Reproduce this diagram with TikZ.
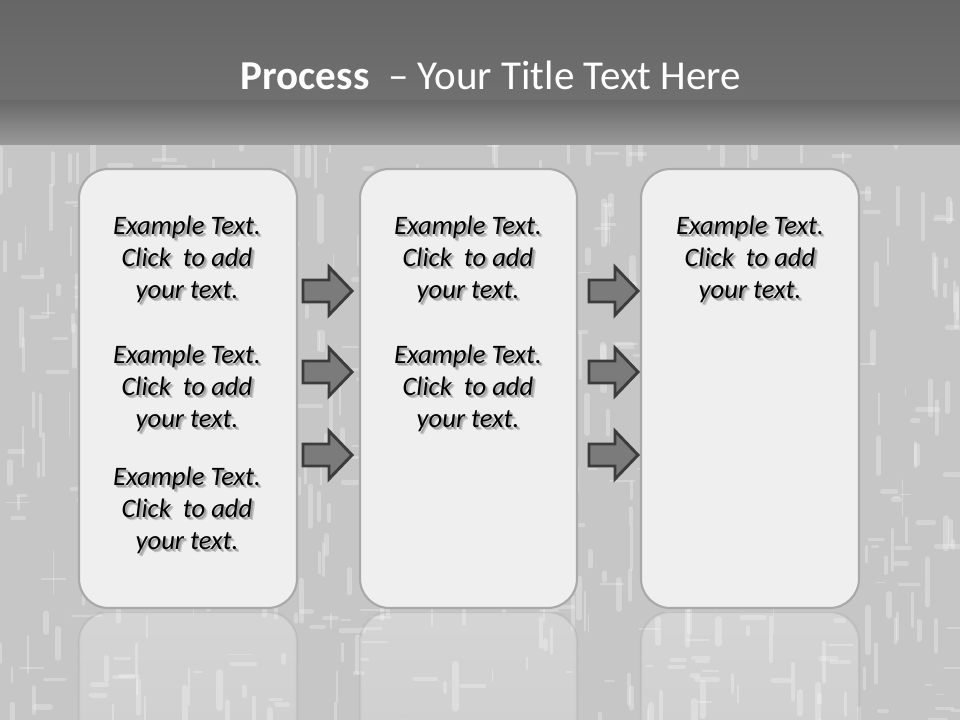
\documentclass[tikz,border=0pt]{standalone}
\usepackage{fontspec}
\setmainfont{Carlito}
\usetikzlibrary{fadings}
\definecolor{bandtop}{HTML}{666666}
\definecolor{bandmid}{HTML}{707070}
\definecolor{bandlow}{HTML}{A6A6A6}
\definecolor{bgbase}{HTML}{C6C6C6}
\definecolor{boxfill}{HTML}{EFEFEF}
\definecolor{boxline}{HTML}{A9A9A9}
\definecolor{arrfill}{HTML}{7B7B7B}
\definecolor{arrline}{HTML}{3C3C3C}
\definecolor{shadowa}{HTML}{C4C4C4}
\definecolor{shadowb}{HTML}{A2A2A2}
\tikzfading[name=reflfade, top color=transparent!25, bottom color=transparent!100]
\tikzset{
  panel/.style={draw=boxline, line width=1.6pt, fill=boxfill, rounded corners=22pt, inner sep=0pt},
  reflpanel/.style={draw=boxline, line width=1.6pt, fill=white, fill opacity=0.35, draw opacity=0.5, rounded corners=22pt, path fading=reflfade},
  bodytxt/.style={align=center, font=\fontsize{20}{24}\selectfont\itshape, text=black, inner sep=0pt},
  arrowshape/.style={draw=arrline, fill=arrfill, line width=2.2pt, line join=miter},
  streak/.style={white, opacity=0.28, line cap=round}
}
\newcommand{\shl}[1]{\leavevmode\rlap{\kern2.4pt\raisebox{-2.6pt}{\textcolor{shadowa}{#1}}}\rlap{\kern1.4pt\raisebox{-1.5pt}{\textcolor{shadowb}{#1}}}#1}
\newcommand{\exampletext}{\shl{Example Text.}\\\shl{Click~ to add}\\\shl{your text.}}
\newcommand{\fatarrow}[3]{% name, left x, center y
  \coordinate (#1) at (#2,#3);
  \draw[arrowshape] ([shift={(0,-11)}]#1) -- ++(26,0) -- ++(0,-13) -- ++(23,24) -- ++(-23,24) -- ++(0,-13) -- ++(-26,0) -- cycle;
}
\begin{document}
\begin{tikzpicture}[x=0.75pt,y=-0.75pt]
\useasboundingbox (0,0) rectangle (960,720);
% background
\fill[bgbase] (0,0) rectangle (960,720);
\pgfmathsetseed{11}
\foreach \i in {1,...,420} {
  \pgfmathsetmacro{\rx}{960*rnd}
  \pgfmathsetmacro{\ry}{110+610*rnd}
  \pgfmathsetmacro{\rl}{6+40*rnd}
  \pgfmathsetmacro{\rw}{1+4*rnd}
  \draw[streak, line width=\rw] (\rx,\ry) -- ++(0,\rl);
}
\foreach \i in {1,...,220} {
  \pgfmathsetmacro{\rx}{960*rnd}
  \pgfmathsetmacro{\ry}{140+580*rnd}
  \pgfmathsetmacro{\rl}{5+20*rnd}
  \pgfmathsetmacro{\rw}{1+3*rnd}
  \draw[streak, opacity=0.25, line width=\rw] (\rx,\ry) -- ++(\rl,0);
}
\fill[top color=bandtop, bottom color=bandmid] (0,0) rectangle (960,100);
\fill[top color=bandmid, bottom color=bandlow, fill opacity=0.92] (0,100) rectangle (960,145);
% title
\node[font=\fontsize{30.8}{36}\selectfont, text=white, inner sep=0pt] (title) at (491,75) {\textbf{Process}~ – Your Title Text Here};
% reflections
\begin{scope}
\clip (0,612) rectangle (960,720);
\path[reflpanel] (79,612) rectangle (297,1000);
\path[reflpanel] (360,612) rectangle (577,1000);
\path[reflpanel] (641,612) rectangle (859,1000);
\end{scope}
% panels
\node[panel, minimum width=218*0.75pt, minimum height=439*0.75pt] (p1) at (188,388.5) {};
\node[panel, minimum width=217*0.75pt, minimum height=439*0.75pt] (p2) at (468.5,388.5) {};
\node[panel, minimum width=218*0.75pt, minimum height=439*0.75pt] (p3) at (750,388.5) {};
% texts
\node[bodytxt] (ta) at (187,261) {\exampletext};
\node[bodytxt] (tb) at (187,390) {\exampletext};
\node[bodytxt] (tc) at (187,512) {\exampletext};
\node[bodytxt] (td) at (468,261) {\exampletext};
\node[bodytxt] (te) at (468,390) {\exampletext};
\node[bodytxt] (tf) at (750,261) {\exampletext};
% arrows
\fatarrow{a1}{303}{291}
\fatarrow{a2}{303}{372}
\fatarrow{a3}{303}{455}
\fatarrow{a4}{589}{291}
\fatarrow{a5}{589}{372}
\fatarrow{a6}{589}{455}
\end{tikzpicture}
\end{document}
